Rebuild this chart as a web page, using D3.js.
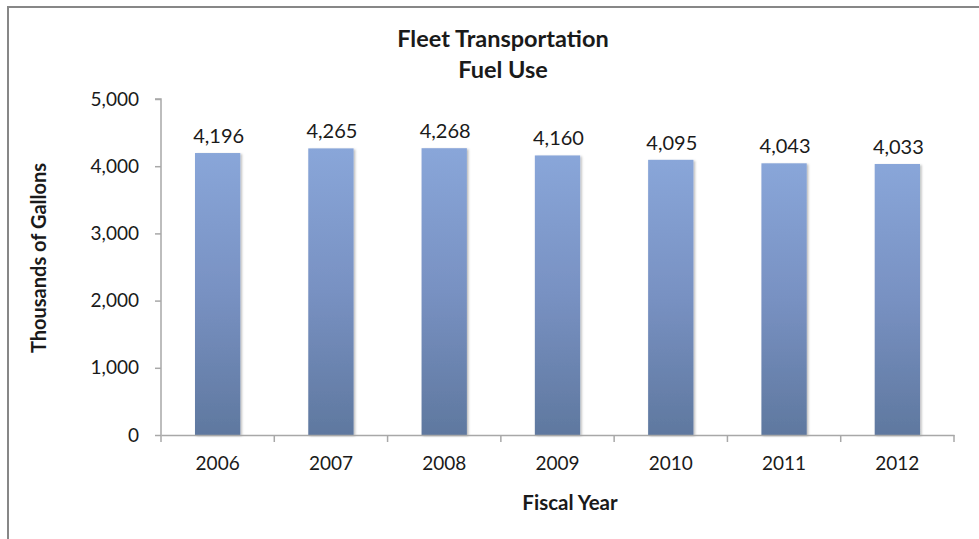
<!DOCTYPE html>
<html>
<head>
<meta charset="utf-8">
<script src="https://cdn.jsdelivr.net/npm/d3@7/dist/d3.min.js"></script>
<style>
  html, body { margin: 0; padding: 0; background: #fff; }
  svg { display: block; }
  text { font-family: Lato, "Open Sans", sans-serif; fill: #1a1a1a; }
</style>
</head>
<body>
<svg id="chart" width="979" height="539"></svg>
<script>
// Fleet fuel use by fiscal year (thousands of gallons)
const years = ["2006", "2007", "2008", "2009", "2010", "2011", "2012"];
const gallons = [4196, 4265, 4268, 4160, 4095, 4043, 4033];
const yTicks = [0, 1000, 2000, 3000, 4000, 5000];
const titleLines = ["Fleet Transportation", "Fuel Use"];
const xTitle = "Fiscal Year";
const yTitle = "Thousands of Gallons";

const svg = d3.select("#chart");
const plot = { left: 161, right: 954, top: 99, bottom: 435 };

// outer chart frame (extends past the right and bottom edges)
svg.append("rect")
  .attr("x", 8).attr("y", 7)
  .attr("width", 1200).attr("height", 1200)
  .attr("fill", "#fff")
  .attr("stroke", "#878787").attr("stroke-width", 2);

const defs = svg.append("defs");
const grad = defs.append("linearGradient")
  .attr("id", "barFill").attr("x1", 0).attr("y1", 0).attr("x2", 0).attr("y2", 1);
grad.append("stop").attr("offset", "0%").attr("stop-color", "#89a6d9");
grad.append("stop").attr("offset", "50%").attr("stop-color", "#7891c2");
grad.append("stop").attr("offset", "100%").attr("stop-color", "#5f789f");

const shadow = defs.append("filter").attr("id", "barShadow")
  .attr("x", "-20%").attr("y", "-10%").attr("width", "150%").attr("height", "130%");
shadow.append("feDropShadow")
  .attr("dx", 1.5).attr("dy", 1).attr("stdDeviation", 1.3)
  .attr("flood-color", "#000").attr("flood-opacity", 0.28);

const x = d3.scaleBand().domain(years).range([plot.left, plot.right]).padding(0);
const y = d3.scaleLinear().domain([0, 5000]).range([plot.bottom, plot.top]);
const barW = x.bandwidth() * 0.4;

// bars
svg.append("g").selectAll("rect")
  .data(years)
  .join("rect")
  .attr("x", (d) => x(d) + (x.bandwidth() - barW) / 2)
  .attr("y", (d, i) => y(gallons[i]))
  .attr("width", barW)
  .attr("height", (d, i) => y(0) - y(gallons[i]))
  .attr("fill", "url(#barFill)")
  .attr("filter", "url(#barShadow)");

// value labels
svg.append("g").selectAll("text")
  .data(years)
  .join("text")
  .attr("x", (d) => x(d) + x.bandwidth() / 2 + 1)
  .attr("y", (d, i) => y(gallons[i]) - 10)
  .attr("text-anchor", "middle")
  .attr("font-size", 20)
  .text((d, i) => d3.format(",")(gallons[i]));

// y axis
const yAxis = svg.append("g")
  .attr("transform", `translate(${plot.left},0)`)
  .call(d3.axisLeft(y).tickValues(yTicks).tickFormat(d3.format(",")).tickSize(6).tickPadding(16));
yAxis.selectAll("text").attr("font-size", 19).attr("font-family", "Lato, sans-serif").attr("fill", "#1a1a1a");

// x axis with ticks at category boundaries
const xAxis = svg.append("g")
  .attr("transform", `translate(0,${plot.bottom})`)
  .call(d3.axisBottom(x).tickSize(0).tickPadding(22));
xAxis.selectAll("text").attr("font-size", 19).attr("font-family", "Lato, sans-serif").attr("fill", "#1a1a1a");
xAxis.selectAll(".tick line").remove();
const bounds = years.map((d) => x(d)).concat([x(years[years.length - 1]) + x.bandwidth()]);
xAxis.selectAll(".bound")
  .data(bounds)
  .join("line")
  .attr("class", "bound")
  .attr("x1", (d) => d).attr("x2", (d) => d)
  .attr("y1", 0).attr("y2", 7);

svg.selectAll(".domain, .tick line, .bound")
  .attr("stroke", "#a8a8a8").attr("stroke-width", 1.5);
yAxis.select(".domain").attr("d", `M-6,${plot.top}H0V${plot.bottom}`);

// title
svg.append("text")
  .attr("x", 503).attr("y", 47)
  .attr("text-anchor", "middle")
  .attr("font-size", 23.5).attr("font-weight", "bold")
  .selectAll("tspan")
  .data(titleLines)
  .join("tspan")
  .attr("x", 503)
  .attr("dy", (d, i) => (i === 0 ? 0 : 31))
  .text((d) => d);

// axis titles
svg.append("text")
  .attr("x", 570).attr("y", 510)
  .attr("text-anchor", "middle")
  .attr("font-size", 20.5).attr("font-weight", "bold")
  .text(xTitle);

svg.append("text")
  .attr("transform", "translate(46,258) rotate(-90)")
  .attr("text-anchor", "middle")
  .attr("font-size", 20).attr("font-weight", "bold")
  .text(yTitle);
</script>
</body>
</html>
